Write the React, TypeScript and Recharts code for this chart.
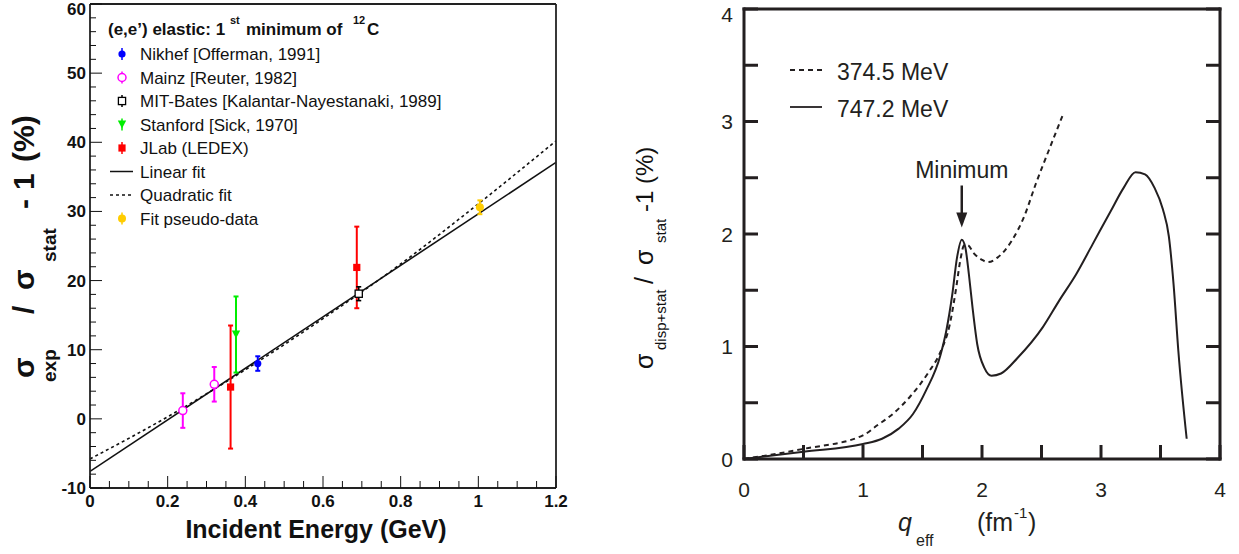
import {
  ComposedChart,
  XAxis,
  YAxis,
  Line,
  Scatter,
  ErrorBar,
  Legend,
  ReferenceDot,
} from "recharts";

const FONT = "'Liberation Sans', Arial, Helvetica, sans-serif";
const INK = "#111";
const INK2 = "#231f20";

// ---------- left panel: sigma_exp / sigma_stat - 1 vs incident energy ----------
const energyMajor = [0, 0.2, 0.4, 0.6, 0.8, 1, 1.2];
const ratioMajor = [-10, 0, 10, 20, 30, 40, 50, 60];

const nikhef = [{ x: 0.432, y: 8.0, err: 1.05 }];
const mainz = [
  { x: 0.239, y: 1.2, err: 2.5 },
  { x: 0.32, y: 5.0, err: 2.5 },
];
const mitBates = [{ x: 0.692, y: 18.1, err: 1.0 }];
const stanford = [{ x: 0.376, y: 12.2, err: 5.5 }];
const jlab = [
  { x: 0.362, y: 4.6, err: 8.9 },
  { x: 0.687, y: 21.9, err: 5.9 },
];
const pseudoData = [{ x: 1.004, y: 30.6, err: 1.0 }];

const linearFit = [
  { x: 0, y: -7.6 },
  { x: 1.2, y: 37.1 },
];
const quadraticFit = [
  { x: 0, y: -5.8 },
  { x: 0.2, y: 0.3 },
  { x: 0.4, y: 7.1 },
  { x: 0.6, y: 14.5 },
  { x: 0.8, y: 22.4 },
  { x: 1.0, y: 31.1 },
  { x: 1.2, y: 40.2 },
];

const leftLegendRows = [
  { kind: "nikhef", label: "Nikhef [Offerman, 1991]" },
  { kind: "mainz", label: "Mainz [Reuter, 1982]" },
  { kind: "mit", label: "MIT-Bates [Kalantar-Nayestanaki, 1989]" },
  { kind: "stanford", label: "Stanford [Sick, 1970]" },
  { kind: "jlab", label: "JLab (LEDEX)" },
  { kind: "linear", label: "Linear fit" },
  { kind: "quadratic", label: "Quadratic fit" },
  { kind: "pseudo", label: "Fit pseudo-data" },
];

// ---------- right panel: sigma_disp+stat / sigma_stat - 1 vs q_eff ----------
const qMajor = [0, 1, 2, 3, 4];
const devMajor = [0, 1, 2, 3, 4];

const run374 = [
  { x: 0, y: 0 },
  { x: 0.5, y: 0.09 },
  { x: 1.0, y: 0.21 },
  { x: 1.12, y: 0.3 },
  { x: 1.25, y: 0.4 },
  { x: 1.4, y: 0.56 },
  { x: 1.55, y: 0.77 },
  { x: 1.65, y: 0.95 },
  { x: 1.73, y: 1.2 },
  { x: 1.78, y: 1.5 },
  { x: 1.82, y: 1.78 },
  { x: 1.85, y: 1.9 },
  { x: 1.88, y: 1.9 },
  { x: 1.93, y: 1.83 },
  { x: 2.0, y: 1.77 },
  { x: 2.05, y: 1.75 },
  { x: 2.13, y: 1.79 },
  { x: 2.25, y: 1.94 },
  { x: 2.36, y: 2.17 },
  { x: 2.45, y: 2.44 },
  { x: 2.56, y: 2.74 },
  { x: 2.68, y: 3.06 },
];
const run747 = [
  { x: 0, y: 0 },
  { x: 0.5, y: 0.065 },
  { x: 1.0, y: 0.133 },
  { x: 1.16, y: 0.18 },
  { x: 1.3, y: 0.27 },
  { x: 1.42, y: 0.4 },
  { x: 1.53, y: 0.61 },
  { x: 1.65, y: 0.92 },
  { x: 1.7, y: 1.14 },
  { x: 1.75, y: 1.46 },
  { x: 1.79, y: 1.79 },
  { x: 1.83, y: 1.95 },
  { x: 1.86, y: 1.88 },
  { x: 1.89, y: 1.64 },
  { x: 1.92, y: 1.35 },
  { x: 1.96, y: 1.02 },
  { x: 2.02, y: 0.81 },
  { x: 2.08, y: 0.74 },
  { x: 2.16, y: 0.76 },
  { x: 2.3, y: 0.9 },
  { x: 2.51, y: 1.17 },
  { x: 2.65, y: 1.41 },
  { x: 2.79, y: 1.64 },
  { x: 2.93, y: 1.91 },
  { x: 3.08, y: 2.2 },
  { x: 3.19, y: 2.41 },
  { x: 3.29, y: 2.55 },
  { x: 3.37, y: 2.53 },
  { x: 3.45, y: 2.41 },
  { x: 3.52, y: 2.22 },
  { x: 3.57, y: 1.98 },
  { x: 3.61, y: 1.55 },
  { x: 3.65, y: 0.96 },
  { x: 3.72, y: 0.18 },
];

const rightLegendRows = [
  { label: "374.5 MeV", dash: "5 4" },
  { label: "747.2 MeV", dash: undefined },
];

// tick positions (minor ticks every step)
const steps = (from: number, to: number, step: number) => {
  const out: number[] = [];
  for (let i = 0; from + i * step <= to + 1e-9; i++) out.push(+(from + i * step).toFixed(4));
  return out;
};
const isMajor = (v: number, majors: number[]) => majors.some((m) => Math.abs(m - v) < 1e-6);

const COLORS: Record<string, string> = {
  nikhef: "#0000ff",
  mainz: "#ff00ff",
  mit: "#000000",
  stanford: "#00ee00",
  jlab: "#ff0000",
  pseudo: "#ffcc00",
};

function Marker({ kind, cx, cy }: { kind: string; cx: number; cy: number }) {
  const c = COLORS[kind];
  switch (kind) {
    case "nikhef":
      return <circle cx={cx} cy={cy} r={3.6} fill={c} />;
    case "mainz":
      return <circle cx={cx} cy={cy} r={4} fill="#fff" stroke={c} strokeWidth={1.5} />;
    case "mit":
      return <rect x={cx - 3.6} y={cy - 3.6} width={7.2} height={7.2} fill="#fff" stroke={c} strokeWidth={1.3} />;
    case "stanford":
      return <path d={`M${cx - 4.2},${cy - 4}L${cx + 4.2},${cy - 4}L${cx},${cy + 4}Z`} fill={c} />;
    case "jlab":
      return <rect x={cx - 3.6} y={cy - 3.6} width={7.2} height={7.2} fill={c} />;
    case "pseudo":
      return <circle cx={cx} cy={cy} r={4} fill={c} />;
    default:
      return null;
  }
}

const rot = (startY: number, baseX: number, size: number, text: string, bold: boolean) => (
  <text
    transform="rotate(-90)"
    x={-startY}
    y={baseX}
    fontSize={size}
    fontWeight={bold ? "bold" : "normal"}
    fontFamily={FONT}
    fill={INK}
  >
    {text}
  </text>
);

function LeftLegend() {
  return (
    <svg width={600} height={240} style={{ display: "block" }}>
      <text fontFamily={FONT} fontWeight="bold" fontSize={17} fill={INK}>
        <tspan x={108} y={35}>(e,e’) elastic: 1</tspan>
        <tspan x={230} y={24} fontSize={11}>st</tspan>
        <tspan x={246} y={35}>minimum of</tspan>
        <tspan x={353} y={24} fontSize={11}>12</tspan>
        <tspan x={367} y={35}>C</tspan>
      </text>
      {leftLegendRows.map((r, i) => {
        const base = 60 + i * 23.5;
        const cy = base - 6;
        let sample;
        if (r.kind === "linear") {
          sample = <line x1={110} x2={133} y1={cy} y2={cy} stroke={INK} strokeWidth={1.5} />;
        } else if (r.kind === "quadratic") {
          sample = <line x1={110} x2={133} y1={cy} y2={cy} stroke={INK} strokeWidth={1.5} strokeDasharray="3 3" />;
        } else {
          sample = (
            <g>
              <line x1={122} x2={122} y1={cy - 6} y2={cy + 6} stroke={COLORS[r.kind]} strokeWidth={1.5} />
              <Marker kind={r.kind} cx={122} cy={cy} />
            </g>
          );
        }
        return (
          <g key={r.label}>
            {sample}
            <text x={140} y={base} fontFamily={FONT} fontSize={17} fill={INK}>
              {r.label}
            </text>
          </g>
        );
      })}
    </svg>
  );
}

function LeftPanel() {
  const xTicks = steps(0, 1.2, 0.05);
  const yTicks = steps(-10, 60, 2);
  const axisStroke = { stroke: "#222", strokeWidth: 1.8 };
  const xTick = (p: any) => {
    const v = p.payload.value;
    const major = isMajor(v, energyMajor);
    return (
      <g>
        <line x1={p.x} x2={p.x} y1={p.y} y2={p.y - (major ? 12 : 7)} stroke={INK} strokeWidth={1} />
        {major && (
          <text x={p.x} y={p.y + 19} textAnchor="middle" fontFamily={FONT} fontWeight="bold" fontSize={17} fill={INK}>
            {v}
          </text>
        )}
      </g>
    );
  };
  const yTick = (p: any) => {
    const v = p.payload.value;
    const major = isMajor(v, ratioMajor);
    return (
      <g>
        <line x1={p.x} x2={p.x + (major ? 12 : 6)} y1={p.y} y2={p.y} stroke={INK} strokeWidth={1} />
        {major && (
          <text x={p.x - 4} y={Math.max(p.y + 6, 15)} textAnchor="end" fontFamily={FONT} fontWeight="bold" fontSize={17} fill={INK}>
            {v}
          </text>
        )}
      </g>
    );
  };
  const scatterSets: [string, any[]][] = [
    ["mainz", mainz],
    ["jlab", jlab],
    ["stanford", stanford],
    ["nikhef", nikhef],
    ["mit", mitBates],
    ["pseudo", pseudoData],
  ];

  return (
    <ComposedChart width={600} height={554} margin={{ top: 3, right: 43, bottom: 36, left: 40 }}>
      <XAxis
        xAxisId="b"
        type="number"
        dataKey="x"
        domain={[0, 1.2]}
        allowDataOverflow
        ticks={xTicks}
        interval={0}
        tickSize={0}
        tickMargin={0}
        tickLine={false}
        tick={xTick}
        axisLine={axisStroke}
        height={30}
        label={() => (
          <text x={316} y={538} textAnchor="middle" fontFamily={FONT} fontWeight="bold" fontSize={25} fill={INK}>
            Incident Energy (GeV)
          </text>
        )}
      />
      <XAxis xAxisId="t" orientation="top" type="number" domain={[0, 1.2]} allowDataOverflow tick={false} tickLine={false} axisLine={axisStroke} height={1} />
      <YAxis
        yAxisId="l"
        type="number"
        dataKey="y"
        domain={[-10, 60]}
        allowDataOverflow
        ticks={yTicks}
        interval={0}
        tickSize={0}
        tickMargin={0}
        tickLine={false}
        tick={yTick}
        axisLine={axisStroke}
        width={50}
        label={() => (
          <g>
            {rot(378, 34, 30, "σ", true)}
            {rot(382, 56, 19, "exp", true)}
            {rot(314, 34, 30, "/", true)}
            {rot(290, 34, 30, "σ", true)}
            {rot(262, 56, 19, "stat", true)}
            {rot(209, 34, 30, "-", true)}
            {rot(190, 34, 30, "1", true)}
            {rot(162, 34, 30, "(%)", true)}
          </g>
        )}
      />
      <YAxis yAxisId="r" orientation="right" type="number" domain={[-10, 60]} allowDataOverflow tick={false} tickLine={false} axisLine={axisStroke} width={1} />

      <Line xAxisId="b" yAxisId="l" data={quadraticFit} dataKey="y" type="monotone" stroke={INK} strokeWidth={1.6} strokeDasharray="3 3" dot={false} isAnimationActive={false} />
      <Line xAxisId="b" yAxisId="l" data={linearFit} dataKey="y" type="linear" stroke={INK} strokeWidth={1.6} dot={false} isAnimationActive={false} />

      {scatterSets.map(([kind, d]) => (
        <Scatter
          key={kind}
          xAxisId="b"
          yAxisId="l"
          data={d}
          dataKey="y"
          isAnimationActive={false}
          shape={(p: any) => <Marker kind={kind} cx={p.cx} cy={p.cy} />}
        >
          <ErrorBar dataKey="err" direction="y" width={2.5} stroke={COLORS[kind]} strokeWidth={kind === "mit" ? 1.6 : 2} isAnimationActive={false} />
        </Scatter>
      ))}

      <Legend
        layout="horizontal"
        align="center"
        verticalAlign="middle"
        wrapperStyle={{ left: 0, top: 0, width: 600, height: 240 }}
        content={() => <LeftLegend />}
      />
    </ComposedChart>
  );
}

function RightLegend() {
  return (
    <svg width={400} height={140} style={{ display: "block" }}>
      {rightLegendRows.map((r, i) => {
        const ly = 70 + i * 37;
        return (
          <g key={r.label}>
            <line x1={170} x2={202} y1={ly} y2={ly} stroke={INK2} strokeWidth={1.8} strokeDasharray={r.dash} />
            <text x={217} y={ly + 10} fontFamily={FONT} fontSize={23} fill={INK2}>
              {r.label}
            </text>
          </g>
        );
      })}
    </svg>
  );
}

function RightPanel() {
  const halfTicks = steps(0, 4, 0.5);
  const frame = { stroke: INK2, strokeWidth: 3, strokeLinecap: "square" as const };
  const TL = 14;
  const bottomTick = (p: any) => {
    const v = p.payload.value;
    return (
      <g>
        <line x1={p.x} x2={p.x} y1={p.y} y2={p.y - TL} stroke={INK2} strokeWidth={3} />
        {isMajor(v, qMajor) && (
          <text x={p.x} y={p.y + 38} textAnchor="middle" fontFamily={FONT} fontSize={21} fill={INK2}>
            {v}
          </text>
        )}
      </g>
    );
  };
  const topTick = (p: any) => <line x1={p.x} x2={p.x} y1={p.y} y2={p.y + TL} stroke={INK2} strokeWidth={3} />;
  const leftTick = (p: any) => {
    const v = p.payload.value;
    return (
      <g>
        <line x1={p.x} x2={p.x + TL} y1={p.y} y2={p.y} stroke={INK2} strokeWidth={3} />
        {isMajor(v, devMajor) && (
          <text x={p.x - 11} y={Math.max(p.y + 7.5, 22)} textAnchor="end" fontFamily={FONT} fontSize={21} fill={INK2}>
            {v}
          </text>
        )}
      </g>
    );
  };
  const rightTick = (p: any) => <line x1={p.x} x2={p.x - TL} y1={p.y} y2={p.y} stroke={INK2} strokeWidth={3} />;

  return (
    <ComposedChart width={619} height={554} margin={{ top: 8, right: 18, bottom: 55, left: 64 }}>
      <XAxis
        xAxisId="b"
        type="number"
        dataKey="x"
        domain={[0, 4]}
        allowDataOverflow
        ticks={halfTicks}
        interval={0}
        tickSize={0}
        tickMargin={0}
        tickLine={false}
        tick={bottomTick}
        axisLine={frame}
        height={40}
        label={() => (
          <text fontFamily={FONT} fill={INK2}>
            <tspan x={278} y={531} fontSize={25} fontStyle="italic">q</tspan>
            <tspan x={296} y={546} fontSize={16}>eff</tspan>
            <tspan x={357} y={531} fontSize={25}>(fm</tspan>
            <tspan x={394} y={518} fontSize={15}>-1</tspan>
            <tspan x={408} y={531} fontSize={25}>)</tspan>
          </text>
        )}
      />
      <XAxis xAxisId="t" orientation="top" type="number" domain={[0, 4]} allowDataOverflow ticks={halfTicks} interval={0} tickSize={0} tickMargin={0} tickLine={false} tick={topTick} axisLine={frame} height={1} />
      <YAxis
        yAxisId="l"
        type="number"
        dataKey="y"
        domain={[0, 4]}
        allowDataOverflow
        ticks={halfTicks}
        interval={0}
        tickSize={0}
        tickMargin={0}
        tickLine={false}
        tick={leftTick}
        axisLine={frame}
        width={60}
        label={() => (
          <g>
            {rot(369, 33, 25, "σ", false)}
            {rot(350, 46, 15, "disp+stat", false)}
            {rot(284, 33, 25, "/", false)}
            {rot(265, 33, 25, "σ", false)}
            {rot(243, 46, 15, "stat", false)}
            {rot(212, 33, 24, "-1 (%)", false)}
          </g>
        )}
      />
      <YAxis yAxisId="r" orientation="right" type="number" domain={[0, 4]} allowDataOverflow ticks={halfTicks} interval={0} tickSize={0} tickMargin={0} tickLine={false} tick={rightTick} axisLine={frame} width={1} />

      <Line xAxisId="b" yAxisId="l" data={run374} dataKey="y" type="monotone" stroke={INK2} strokeWidth={2} strokeDasharray="5 4" dot={false} isAnimationActive={false} />
      <Line xAxisId="b" yAxisId="l" data={run747} dataKey="y" type="monotone" stroke={INK2} strokeWidth={2} dot={false} isAnimationActive={false} />

      <ReferenceDot
        xAxisId="b"
        yAxisId="l"
        x={1.83}
        y={2.6}
        r={0}
        shape={(p: any) => (
          <g>
            <text x={p.cx} y={p.cy + 11} textAnchor="middle" fontFamily={FONT} fontSize={23} fill={INK2}>
              Minimum
            </text>
            <line x1={p.cx} x2={p.cx} y1={p.cy + 19} y2={p.cy + 50} stroke={INK2} strokeWidth={2.5} />
            <path d={`M${p.cx - 5.5},${p.cy + 46}L${p.cx + 5.5},${p.cy + 46}L${p.cx},${p.cy + 61}Z`} fill={INK2} />
          </g>
        )}
      />

      <Legend
        layout="horizontal"
        align="center"
        verticalAlign="middle"
        wrapperStyle={{ left: 0, top: 0, width: 400, height: 140 }}
        content={() => <RightLegend />}
      />
    </ComposedChart>
  );
}

export default function App() {
  return (
    <div style={{ position: "absolute", left: 0, top: 0, width: 1239, height: 554, background: "#fff" }}>
      <div style={{ position: "absolute", left: 0, top: 0 }}>
        <LeftPanel />
      </div>
      <div style={{ position: "absolute", left: 620, top: 0 }}>
        <RightPanel />
      </div>
    </div>
  );
}
